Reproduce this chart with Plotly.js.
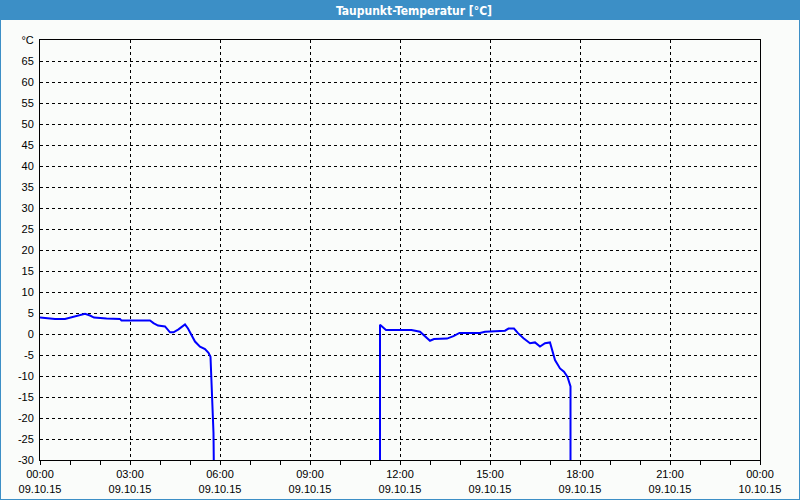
<!DOCTYPE html>
<html>
<head>
<meta charset="utf-8">
<script src="https://cdn.plot.ly/plotly-3.0.1.min.js"></script>
<style>
html,body{margin:0;padding:0;background:#fafcfa;}
#chart{width:800px;height:500px;}
</style>
</head>
<body>
<div id="chart"></div>
<script>
// Dew point data (°C), 09.10.2015
const times = [
  "2015-10-09 00:00","2015-10-09 00:30","2015-10-09 00:50","2015-10-09 01:00","2015-10-09 01:13",
  "2015-10-09 01:30","2015-10-09 01:40","2015-10-09 01:48","2015-10-09 02:13","2015-10-09 02:40",
  "2015-10-09 02:43","2015-10-09 03:40","2015-10-09 03:47","2015-10-09 03:56","2015-10-09 04:10",
  "2015-10-09 04:20","2015-10-09 04:27","2015-10-09 04:37","2015-10-09 04:50","2015-10-09 04:56",
  "2015-10-09 05:10","2015-10-09 05:20","2015-10-09 05:30","2015-10-09 05:37","2015-10-09 05:41",
  "2015-10-09 05:43","2015-10-09 05:45","2015-10-09 05:47","2015-10-09 05:48",
  "2015-10-09 08:00",
  "2015-10-09 11:20","2015-10-09 11:20","2015-10-09 11:32","2015-10-09 12:23","2015-10-09 12:40",
  "2015-10-09 12:50","2015-10-09 13:00","2015-10-09 13:08","2015-10-09 13:34","2015-10-09 13:47",
  "2015-10-09 13:59","2015-10-09 14:40","2015-10-09 14:50","2015-10-09 15:30","2015-10-09 15:37",
  "2015-10-09 15:48","2015-10-09 15:56","2015-10-09 16:07","2015-10-09 16:20","2015-10-09 16:30",
  "2015-10-09 16:40","2015-10-09 16:50","2015-10-09 17:00","2015-10-09 17:10","2015-10-09 17:20",
  "2015-10-09 17:28","2015-10-09 17:35","2015-10-09 17:41","2015-10-09 17:41"
];
const dewPoint = [
  3.9, 3.6, 3.6, 3.9, 4.3,
  4.8, 4.4, 3.9, 3.7, 3.6,
  3.2, 3.2, 2.6, 2.0, 1.8,
  0.4, 0.4, 1.1, 2.3, 1.3,
  -1.8, -3.0, -3.6, -4.5, -5.4,
  -11.4, -17.7, -23.6, -35,
  null,
  -35, 2.2, 0.95, 0.95, 0.55,
  -0.5, -1.6, -1.2, -1.1, -0.5,
  0.25, 0.25, 0.55, 0.8, 1.3,
  1.3, 0.2, -1.0, -2.2, -2.0,
  -3.0, -2.2, -2.0, -6.2, -8.2,
  -9.0, -10.2, -12.5, -35
];
const xTickVals = ["2015-10-09 00:00","2015-10-09 03:00","2015-10-09 06:00","2015-10-09 09:00","2015-10-09 12:00",
  "2015-10-09 15:00","2015-10-09 18:00","2015-10-09 21:00","2015-10-10 00:00"];
const xTickText = ["00:00<br>09.10.15","03:00<br>09.10.15","06:00<br>09.10.15","09:00<br>09.10.15","12:00<br>09.10.15",
  "15:00<br>09.10.15","18:00<br>09.10.15","21:00<br>09.10.15","00:00<br>10.10.15"];
const yTickVals = [-30,-25,-20,-15,-10,-5,0,5,10,15,20,25,30,35,40,45,50,55,60,65,70];
const yTickText = ["-30","-25","-20","-15","-10","-5","0","5","10","15","20","25","30","35","40","45","50","55","60","65","°C"];

const W = 720, H = 420;
const blue = "#3c8fc6";
const layout = {
  width: 800, height: 500,
  margin: {l: 40, r: 40, t: 40, b: 40},
  paper_bgcolor: "#fafcfa",
  plot_bgcolor: "#fafcfa",
  showlegend: false,
  font: {family: "Liberation Sans, Arial, sans-serif", size: 11, color: "#000"},
  title: {text: "<b>Taupunkt-Temperatur [°C]</b>", font: {color: "#ffffff", size: 12, family: "DejaVu Sans Condensed, DejaVu Sans, sans-serif"},
          x: 414/800, xanchor: "center", xref: "container", y: 1 - 10.5/500, yanchor: "middle", yref: "container"},
  xaxis: {
    type: "date",
    range: ["2015-10-09 00:00", "2015-10-10 00:00"],
    tickmode: "array", tickvals: xTickVals, ticktext: xTickText,
    showgrid: true, gridcolor: "#000", gridwidth: 1, griddash: "3px,3px",
    showline: true, linecolor: "#000", linewidth: 1, mirror: true,
    ticks: "outside", ticklen: 4, tickcolor: "#000",
    minor: {dtick: 3600000, tick0: "2015-10-09 00:00", ticks: "outside", ticklen: 4, tickcolor: "#000", showgrid: false},
    zeroline: false, fixedrange: true
  },
  yaxis: {
    range: [-30, 70],
    tickmode: "array", tickvals: yTickVals, ticktext: yTickText,
    showgrid: true, gridcolor: "#000", gridwidth: 1, griddash: "3px,3px",
    showline: true, linecolor: "#000", linewidth: 1, mirror: true,
    ticks: "", ticklabelstandoff: 3,
    zeroline: false, fixedrange: true
  },
  shapes: [
    {type: "rect", xref: "paper", yref: "paper", layer: "below",
     x0: -40/W, x1: 1 + 40/W, y0: 1 + 20/H, y1: 1 + 40/H,
     fillcolor: blue, line: {width: 0}},
    {type: "rect", xref: "paper", yref: "paper", layer: "above",
     x0: -40/W, x1: 1 + 40/W, y0: -40/H, y1: 1 + 40/H,
     fillcolor: "rgba(0,0,0,0)", line: {color: blue, width: 2}}
  ]
};

Plotly.newPlot("chart", [{
  x: times, y: dewPoint, type: "scatter", mode: "lines",
  line: {color: "#0000ff", width: 2}, connectgaps: false, hoverinfo: "skip"
}], layout, {staticPlot: true, displayModeBar: false});
</script>
</body>
</html>
